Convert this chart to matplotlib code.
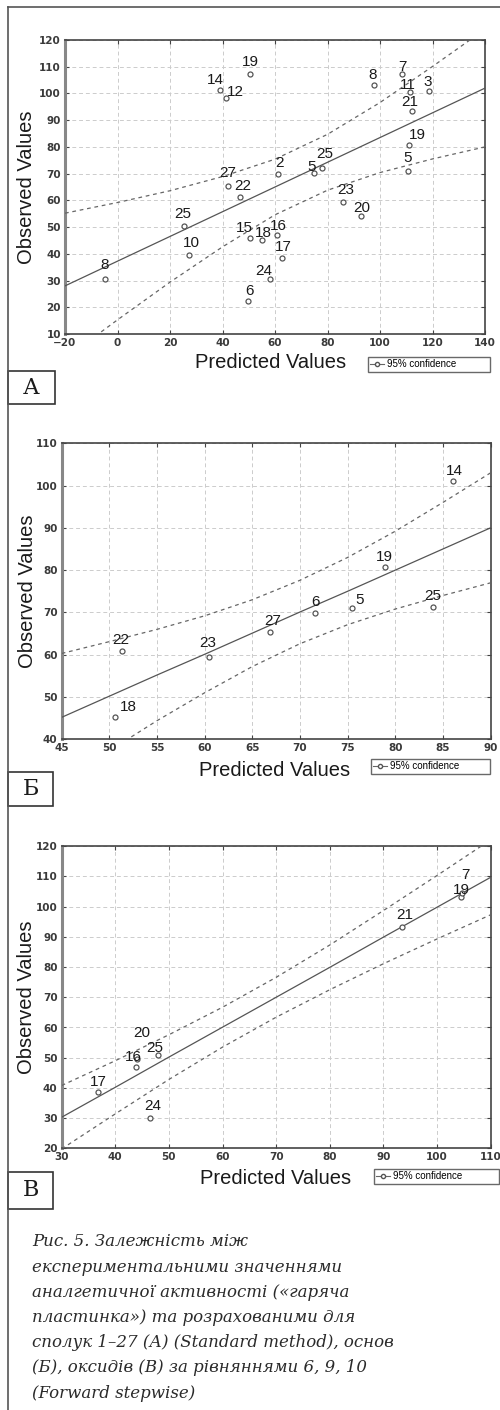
import matplotlib
matplotlib.use("Agg")
import matplotlib.pyplot as plt
from matplotlib.lines import Line2D
from matplotlib.patches import Rectangle

# ---------------- data ----------------
# Panel A
a_ids = ["14", "12", "19", "27", "22", "25", "10", "8", "15", "18", "16", "17", "24", "6",
         "23", "20", "2", "5", "25", "8", "7", "11", "3", "21", "19", "5"]
a_pred = [39.0, 41.3, 50.5, 42.0, 46.7, 25.3, 27.4, -4.6, 50.5, 54.9, 60.6, 62.8, 58.1, 49.8,
          85.8, 92.8, 61.0, 74.9, 77.8, 97.8, 108.5, 111.4, 118.8, 112.0, 111.2, 110.8]
a_obs = [101.3, 98.2, 107.3, 65.4, 61.1, 50.5, 39.6, 30.7, 45.8, 45.2, 47.0, 38.5, 30.5, 22.3,
         59.5, 54.1, 69.7, 70.1, 72.0, 103.2, 107.3, 100.6, 101.0, 93.5, 80.7, 71.0]
a_grid = [-20, 0, 20, 40, 60, 80, 100, 120, 140]
a_fit = [28.0, 37.25, 46.5, 55.75, 65.0, 74.25, 83.5, 92.75, 102.0]
a_upper = [55.2, 59.2, 63.6, 68.9, 75.4, 84.7, 96.6, 110.1, 124.0]
a_lower = [0.8, 15.3, 29.4, 42.6, 54.6, 63.8, 70.4, 75.5, 80.0]
a_xticks = [-20, 0, 20, 40, 60, 80, 100, 120, 140]
a_yticks = [10, 20, 30, 40, 50, 60, 70, 80, 90, 100, 110, 120]

# Panel Б
b_ids = ["14", "19", "6", "5", "25", "27", "23", "22", "18"]
b_pred = [86.1, 78.9, 71.6, 75.5, 84.0, 66.9, 60.5, 51.3, 50.6]
b_obs = [101.1, 80.7, 69.8, 71.0, 71.3, 65.4, 59.5, 60.9, 45.2]
b_grid = [45, 50, 55, 60, 65, 70, 75, 80, 85, 90]
b_fit = [45.2, 50.2, 55.2, 60.1, 65.1, 70.1, 75.0, 80.0, 85.0, 90.0]
b_upper = [60.3, 63.1, 66.0, 69.2, 73.0, 77.6, 83.0, 89.2, 96.0, 103.0]
b_lower = [30.1, 37.3, 44.4, 51.0, 57.2, 62.6, 67.1, 70.8, 74.0, 77.0]
b_xticks = [45, 50, 55, 60, 65, 70, 75, 80, 85, 90]
b_yticks = [40, 50, 60, 70, 80, 90, 100, 110]

# Panel В
c_ids = ["17", "16", "25", "20", "24", "21", "19", "7"]
c_pred = [36.8, 43.9, 47.9, 44.1, 46.5, 93.5, 104.5, 104.7]
c_obs = [38.5, 47.0, 50.9, 49.5, 29.9, 93.4, 103.1, 104.5]
c_grid = [30, 40, 50, 60, 70, 80, 90, 100, 110]
c_fit = [30.3, 40.2, 50.2, 60.1, 70.0, 79.9, 89.9, 99.8, 109.7]
c_upper = [40.8, 49.0, 57.6, 66.7, 76.6, 87.3, 98.7, 110.3, 122.1]
c_lower = [19.8, 31.4, 42.8, 53.5, 63.4, 72.5, 81.1, 89.3, 97.3]
c_xticks = [30, 40, 50, 60, 70, 80, 90, 100, 110]
c_yticks = [20, 30, 40, 50, 60, 70, 80, 90, 100, 110, 120]

caption_lines = [
    "Рис. 5. Залежність між",
    "експериментальними значеннями",
    "аналгетичної активності («гаряча",
    "пластинка») та розрахованими для",
    "сполук 1–27 (А) (Standard method), основ",
    "(Б), оксидів (В) за рівняннями 6, 9, 10",
    "(Forward stepwise)",
]
panel_letters = ["А", "Б", "В"]

# label offsets in pixels (dx right, dy up) -- layout only
a_off = [(-5, 10), (9, 6), (0, 12), (0, 13), (3, 11), (-1, 12), (2, 12), (-1, 14), (-6, 10),
         (2, 7), (2, 9), (1, 11), (-6, 8), (1, 10), (3, 12), (1, 8), (2, 11), (-3, 6), (3, 14),
         (-2, 10), (0, 7), (-2, 7), (-2, 9), (-2, 9), (8, 10), (-1, 13)]
b_off = [(1, 10), (0, 10), (0, 11), (7, 8), (-1, 11), (2, 11), (-2, 14), (-1, 11), (13, 10)]
c_off = [(0, 10), (-3, 10), (-3, 7), (4, 26), (3, 12), (3, 12), (0, 7), (3, 18)]

# ---------------- figure ----------------
W, H = 500, 1410
fig = plt.figure(figsize=(W / 100, H / 100), dpi=100)
fig.patch.set_facecolor("white")


def fx(px):
    return px / W


def fy(py):
    return 1 - py / H


SANS = ["Liberation Sans", "DejaVu Sans"]


def make_panel(rect, ids, xs, ys, grid, fit, up, lo, xt, yt, xlim, ylim, offs,
               xlabel_pos, ylabel_pos, leg_box, letter_box, letter):
    l, r, t, b = rect
    ax = fig.add_axes([fx(l), fy(b), fx(r - l), (b - t) / H])
    ax.set_xlim(*xlim)
    ax.set_ylim(*ylim)
    ax.set_xticks(xt)
    ax.set_yticks(yt)
    ax.grid(True, ls=(0, (4, 3)), color="#cccccc", lw=0.7)
    ax.set_axisbelow(True)
    for s in ["top", "right", "bottom"]:
        ax.spines[s].set_color("#444444")
        ax.spines[s].set_linewidth(1.2)
    ax.spines["left"].set_color("#888888")
    ax.spines["left"].set_linewidth(2.2)
    ax.tick_params(direction="in", length=3, width=0.8, top=True, right=True,
                   labelsize=7.5, colors="#444444", labelcolor="#3a3a3a", pad=3)
    for lab in ax.get_xticklabels() + ax.get_yticklabels():
        lab.set_family("DejaVu Sans")
        lab.set_fontweight("bold")
    ax.plot(grid, fit, color="#555555", lw=0.9, zorder=3)
    ax.plot(grid, up, color="#666666", lw=0.9, ls=(0, (3, 3)), zorder=3)
    ax.plot(grid, lo, color="#666666", lw=0.9, ls=(0, (3, 3)), zorder=3)
    ax.plot(xs, ys, ls="none", marker="o", ms=3.6, mfc="white", mec="#555555",
            mew=0.9, zorder=4)
    for name, x, y, (dx, dy) in zip(ids, xs, ys, offs):
        ax.annotate(name, (x, y), xytext=(dx * 0.72, dy * 0.72),
                    textcoords="offset points", ha="center", va="center",
                    fontsize=11, family=SANS, color="#1a1a1a", zorder=5,
                    annotation_clip=False)
    fig.text(fx(xlabel_pos[0]), fy(xlabel_pos[1]), "Predicted Values", ha="center",
             va="center", fontsize=14.5, family=SANS, color="#1a1a1a")
    fig.text(fx(ylabel_pos[0]), fy(ylabel_pos[1]), "Observed Values", ha="center",
             va="center", rotation=90, fontsize=14.5, family=SANS, color="#1a1a1a")
    # legend
    x0, y0, x1, y1 = leg_box
    h = Line2D([0], [0], color="#666666", lw=0.8, marker="o", ms=3, mfc="white",
               mec="#555555")
    leg = fig.legend([h], ["95% confidence"], loc="upper left",
                     bbox_to_anchor=(fx(x0), fy(y1), fx(x1 - x0), (y1 - y0) / H),
                     mode="expand", borderaxespad=0, frameon=True, fancybox=False,
                     prop={"family": SANS, "size": 7}, handlelength=1.4,
                     handletextpad=0.3, borderpad=0.25, labelspacing=0)
    leg.get_frame().set_edgecolor("#444444")
    leg.get_frame().set_linewidth(1.0)
    # letter box
    lx0, ly0, lx1, ly1 = letter_box
    fig.patches.append(Rectangle((fx(lx0), fy(ly1)), fx(lx1 - lx0), (ly1 - ly0) / H,
                                 transform=fig.transFigure, fill=False,
                                 edgecolor="#333333", lw=1.2))
    fig.text(fx((lx0 + lx1) / 2), fy((ly0 + ly1) / 2), letter, ha="center",
             va="center", fontsize=16, family=["DejaVu Serif"], color="#1a1a1a")
    return ax


make_panel((65, 485, 40, 334), a_ids, a_pred, a_obs, a_grid, a_fit, a_upper, a_lower,
           a_xticks, a_yticks, (-20, 140), (10, 120), a_off,
           (271, 363), (27, 187), (368, 357, 490, 372), (8, 371, 55, 404), panel_letters[0])
make_panel((61.7, 490.5, 443.3, 739.3), b_ids, b_pred, b_obs, b_grid, b_fit, b_upper,
           b_lower, b_xticks, b_yticks, (45, 90), (40, 110), b_off,
           (275, 770), (28, 591), (371, 759, 490, 776), (8, 772, 53, 806), panel_letters[1])
make_panel((61.7, 490.5, 846.3, 1148.3), c_ids, c_pred, c_obs, c_grid, c_fit, c_upper,
           c_lower, c_xticks, c_yticks, (30, 110), (20, 120), c_off,
           (276, 1178), (27, 997), (374, 1169, 499, 1186), (8, 1172, 53, 1209),
           panel_letters[2])

# outer frame lines
fig.add_artist(Line2D([fx(8), fx(8)], [fy(7), fy(1410)], transform=fig.transFigure,
                      color="#555555", lw=1.2))
fig.add_artist(Line2D([fx(8), fx(500)], [fy(7), fy(7)], transform=fig.transFigure,
                      color="#555555", lw=1.2))

# caption
for i, line in enumerate(caption_lines):
    fig.text(fx(32), fy(1242 + i * 25.2), line, ha="left", va="center", fontsize=12,
             family="DejaVu Serif", style="italic", color="#2a2a2a")

fig.savefig("out.png", dpi=100, facecolor="white")
